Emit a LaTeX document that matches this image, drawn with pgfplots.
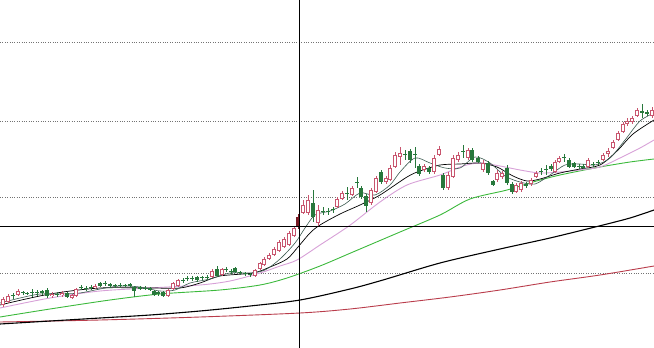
\documentclass[border=0pt]{standalone}
\usepackage{pgfplots}
\usepackage{pgfplotstable}
\pgfplotsset{compat=1.18}
\definecolor{upc}{RGB}{200,85,110}
\definecolor{dnc}{RGB}{40,120,60}
\definecolor{maA}{RGB}{60,90,80}
\definecolor{maC}{RGB}{215,160,215}
\definecolor{maD}{RGB}{60,185,60}
\definecolor{maF}{RGB}{185,60,75}
\definecolor{hl}{RGB}{120,25,35}
% pixel-space values: t/b = body top/bottom, h/l = wick top/bottom
\pgfplotstableread{
x t b h l
3 299 305 297 307
8 296 302 294 303
18 291 295 289 296
52 294 296 292 298
62 293 295 291 297
72 295 298 294 299
76 289 296 288 297
95 286 288 284 289
168 290 296 289 297
173 283 289 282 290
178 280 286 279 287
212 271 277 269 278
222 269 275 268 276
255 270 276 269 277
260 263 269 262 270
264 259 265 257 266
269 255 259 253 260
274 249 255 247 256
279 242 251 240 252
284 239 247 237 248
289 233 245 231 246
294 228 236 226 237
303 205 213 200 214
308 200 213 195 215
318 210 223 205 226
337 199 207 197 208
342 193 199 191 200
352 188 195 186 196
371 190 203 188 205
376 178 192 176 193
386 178 182 176 184
390 168 180 165 181
395 155 167 152 168
400 153 157 147 165
424 166 170 164 172
434 158 172 155 174
439 149 155 146 156
448 175 188 172 190
453 158 177 155 178
458 155 160 152 162
468 150 158 148 160
483 163 170 160 172
497 173 180 170 182
502 173 177 171 179
516 185 192 183 193
521 183 190 181 192
531 180 184 178 186
536 173 177 171 178
555 162 172 160 173
559 158 162 156 163
588 160 167 158 168
603 155 160 153 161
608 151 154 148 157
613 142 148 140 149
618 133 140 131 141
623 124 132 122 133
627 121 124 118 126
632 118 122 116 124
637 110 116 108 117
652 110 116 107 118
}\up
\pgfplotstableread{
x t b h l
13 295 296 293 299
23 292 293 291 295
27 293 294 292 295
32 292 293 289 297
37 292 293 290 296
42 291 293 290 295
47 290 296 288 298
57 294 295 292 297
67 293 297 292 298
81 287 288 285 290
86 288 289 286 291
91 287 288 285 290
100 283 286 282 287
105 283 284 281 286
110 284 286 283 288
115 285 286 284 288
120 285 286 283 287
125 285 286 284 287
130 284 286 283 287
134 287 291 286 297
140 287 289 286 290
145 288 289 286 290
150 288 290 287 291
154 291 295 290 296
158 292 294 291 296
163 292 296 291 297
183 280 281 278 283
187 278 279 276 281
192 278 279 276 281
197 277 280 276 282
202 277 278 276 280
207 277 278 275 280
217 269 276 266 277
226 269 270 267 272
231 271 272 269 274
235 268 272 267 273
240 272 273 271 275
245 273 274 272 276
250 274 275 273 277
313 203 217 190 222
323 211 212 207 215
328 211 212 208 215
333 209 210 207 213
347 193 194 187 200
357 182 183 177 188
361 188 197 186 199
366 196 206 194 212
381 172 182 170 184
405 154 155 150 160
410 151 160 149 163
415 154 155 147 168
419 166 174 164 176
429 168 172 166 174
443 175 188 173 190
463 151 152 145 158
472 150 160 148 162
478 158 162 156 163
488 163 173 161 175
493 181 185 180 186
507 168 183 165 185
512 184 192 182 194
526 184 186 182 188
541 171 172 168 175
546 169 170 165 175
551 166 169 164 171
564 157 158 154 162
569 160 167 158 168
574 163 167 162 168
579 166 167 164 169
583 166 168 164 169
593 164 165 162 167
598 162 163 160 165
642 111 113 104 118
647 112 114 110 116
}\dn
\pgfplotstableread{
x t b h l
298 217 227 214 229
}\hlc
\pgfplotsset{
  candle/.style n args={2}{draw=none, mark=none, forget plot,
    error bars/.cd, y dir=plus, y explicit, error mark=none,
    error bar style={line width=#1, draw=#2, solid}},
}
\begin{document}
\begin{tikzpicture}
\begin{axis}[
  scale only axis, width=654bp, height=348bp,
  xmin=0, xmax=654, ymin=0, ymax=348, y dir=reverse,
  axis line style={draw=none},
  xtick=\empty, ytick={42,121,197,273}, yticklabels={},
  major tick length=0pt,
  ymajorgrids, grid style={dotted, gray!90!black, line width=0.8bp},
  clip=true,
]
% long moving averages
\addplot[maF, line width=0.9bp, smooth] coordinates {(0,322)(100,320)(200,317)(300,313)(350,309)(400,303)(450,297)(500,290)(550,282)(600,275)(654,266)};
\addplot[black, line width=1.1bp, smooth] coordinates {(0,324)(50,321)(100,318)(150,315)(200,311)(250,306)(300,300)(350,289)(383,280)(440,263)(500,249)(550,238)(599,226)(630,218)(654,210)};
\addplot[maD, line width=0.9bp, smooth] coordinates {(0,317)(50,309)(110,300)(160,294)(220,290)(260,285)(287,278)(320,266)(353,252)(400,232)(440,215)(470,199)(507,190)(533,182)(560,175)(600,167)(630,162)(654,159)};
\addplot[maC, line width=0.9bp, smooth] coordinates {(0,308)(50,298)(100,291)(150,288)(200,285)(230,281)(260,273)(280,266)(297,260)(320,245)(340,232)(353,223)(380,202)(407,185)(440,175)(463,166)(480,163)(500,166)(520,170)(540,173)(560,172)(580,170)(600,167)(620,158)(640,148)(654,140)};
\addplot[black, line width=0.7bp, smooth] coordinates {(0,305)(50,294)(100,288)(150,288)(180,288)(200,283)(220,276)(253,273)(270,267)(287,259)(298,247)(310,233)(320,225)(340,214)(360,205)(380,195)(407,177)(420,171)(440,165)(460,164)(480,163)(497,167)(513,176)(527,181)(540,179)(560,173)(580,169)(600,165)(617,151)(633,134)(654,120)};
\addplot[maA, line width=0.6bp, smooth] coordinates {(0,303)(20,298)(40,294)(60,294)(80,293)(100,289)(120,286)(140,287)(160,291)(175,290)(190,283)(210,279)(230,273)(250,273)(265,270)(280,259)(295,243)(305,228)(315,215)(330,211)(345,204)(360,193)(375,195)(390,185)(400,172)(415,158)(430,163)(445,168)(460,168)(475,157)(490,163)(505,176)(520,182)(535,184)(550,175)(565,165)(580,164)(595,165)(610,158)(625,140)(640,121)(654,113)};
% wicks
\addplot[candle={0.8bp}{upc}] table[x=x, y=h, y error expr=\thisrow{l}-\thisrow{h}] {\up};
\addplot[candle={0.8bp}{dnc}] table[x=x, y=h, y error expr=\thisrow{l}-\thisrow{h}] {\dn};
\addplot[candle={0.8bp}{hl}] table[x=x, y=h, y error expr=\thisrow{l}-\thisrow{h}] {\hlc};
% bodies
\addplot[candle={3.6bp}{upc}] table[x=x, y=t, y error expr=\thisrow{b}-\thisrow{t}] {\up};
\addplot[candle={2.0bp}{white}] table[x=x, y expr=\thisrow{t}+0.8, y error expr={max(\thisrow{b}-\thisrow{t}-1.6,0)}] {\up};
\addplot[candle={3.6bp}{dnc}] table[x=x, y=t, y error expr=\thisrow{b}-\thisrow{t}] {\dn};
\addplot[candle={3.6bp}{hl}] table[x=x, y=t, y error expr=\thisrow{b}-\thisrow{t}] {\hlc};
% crosshair
\addplot[black, line width=0.9bp] coordinates {(299,0)(299,348)};
\addplot[black, line width=0.9bp] coordinates {(0,226)(654,226)};
\end{axis}
\pgfresetboundingbox
\path (current axis.south west) rectangle (current axis.north east);
\end{tikzpicture}
\end{document}
